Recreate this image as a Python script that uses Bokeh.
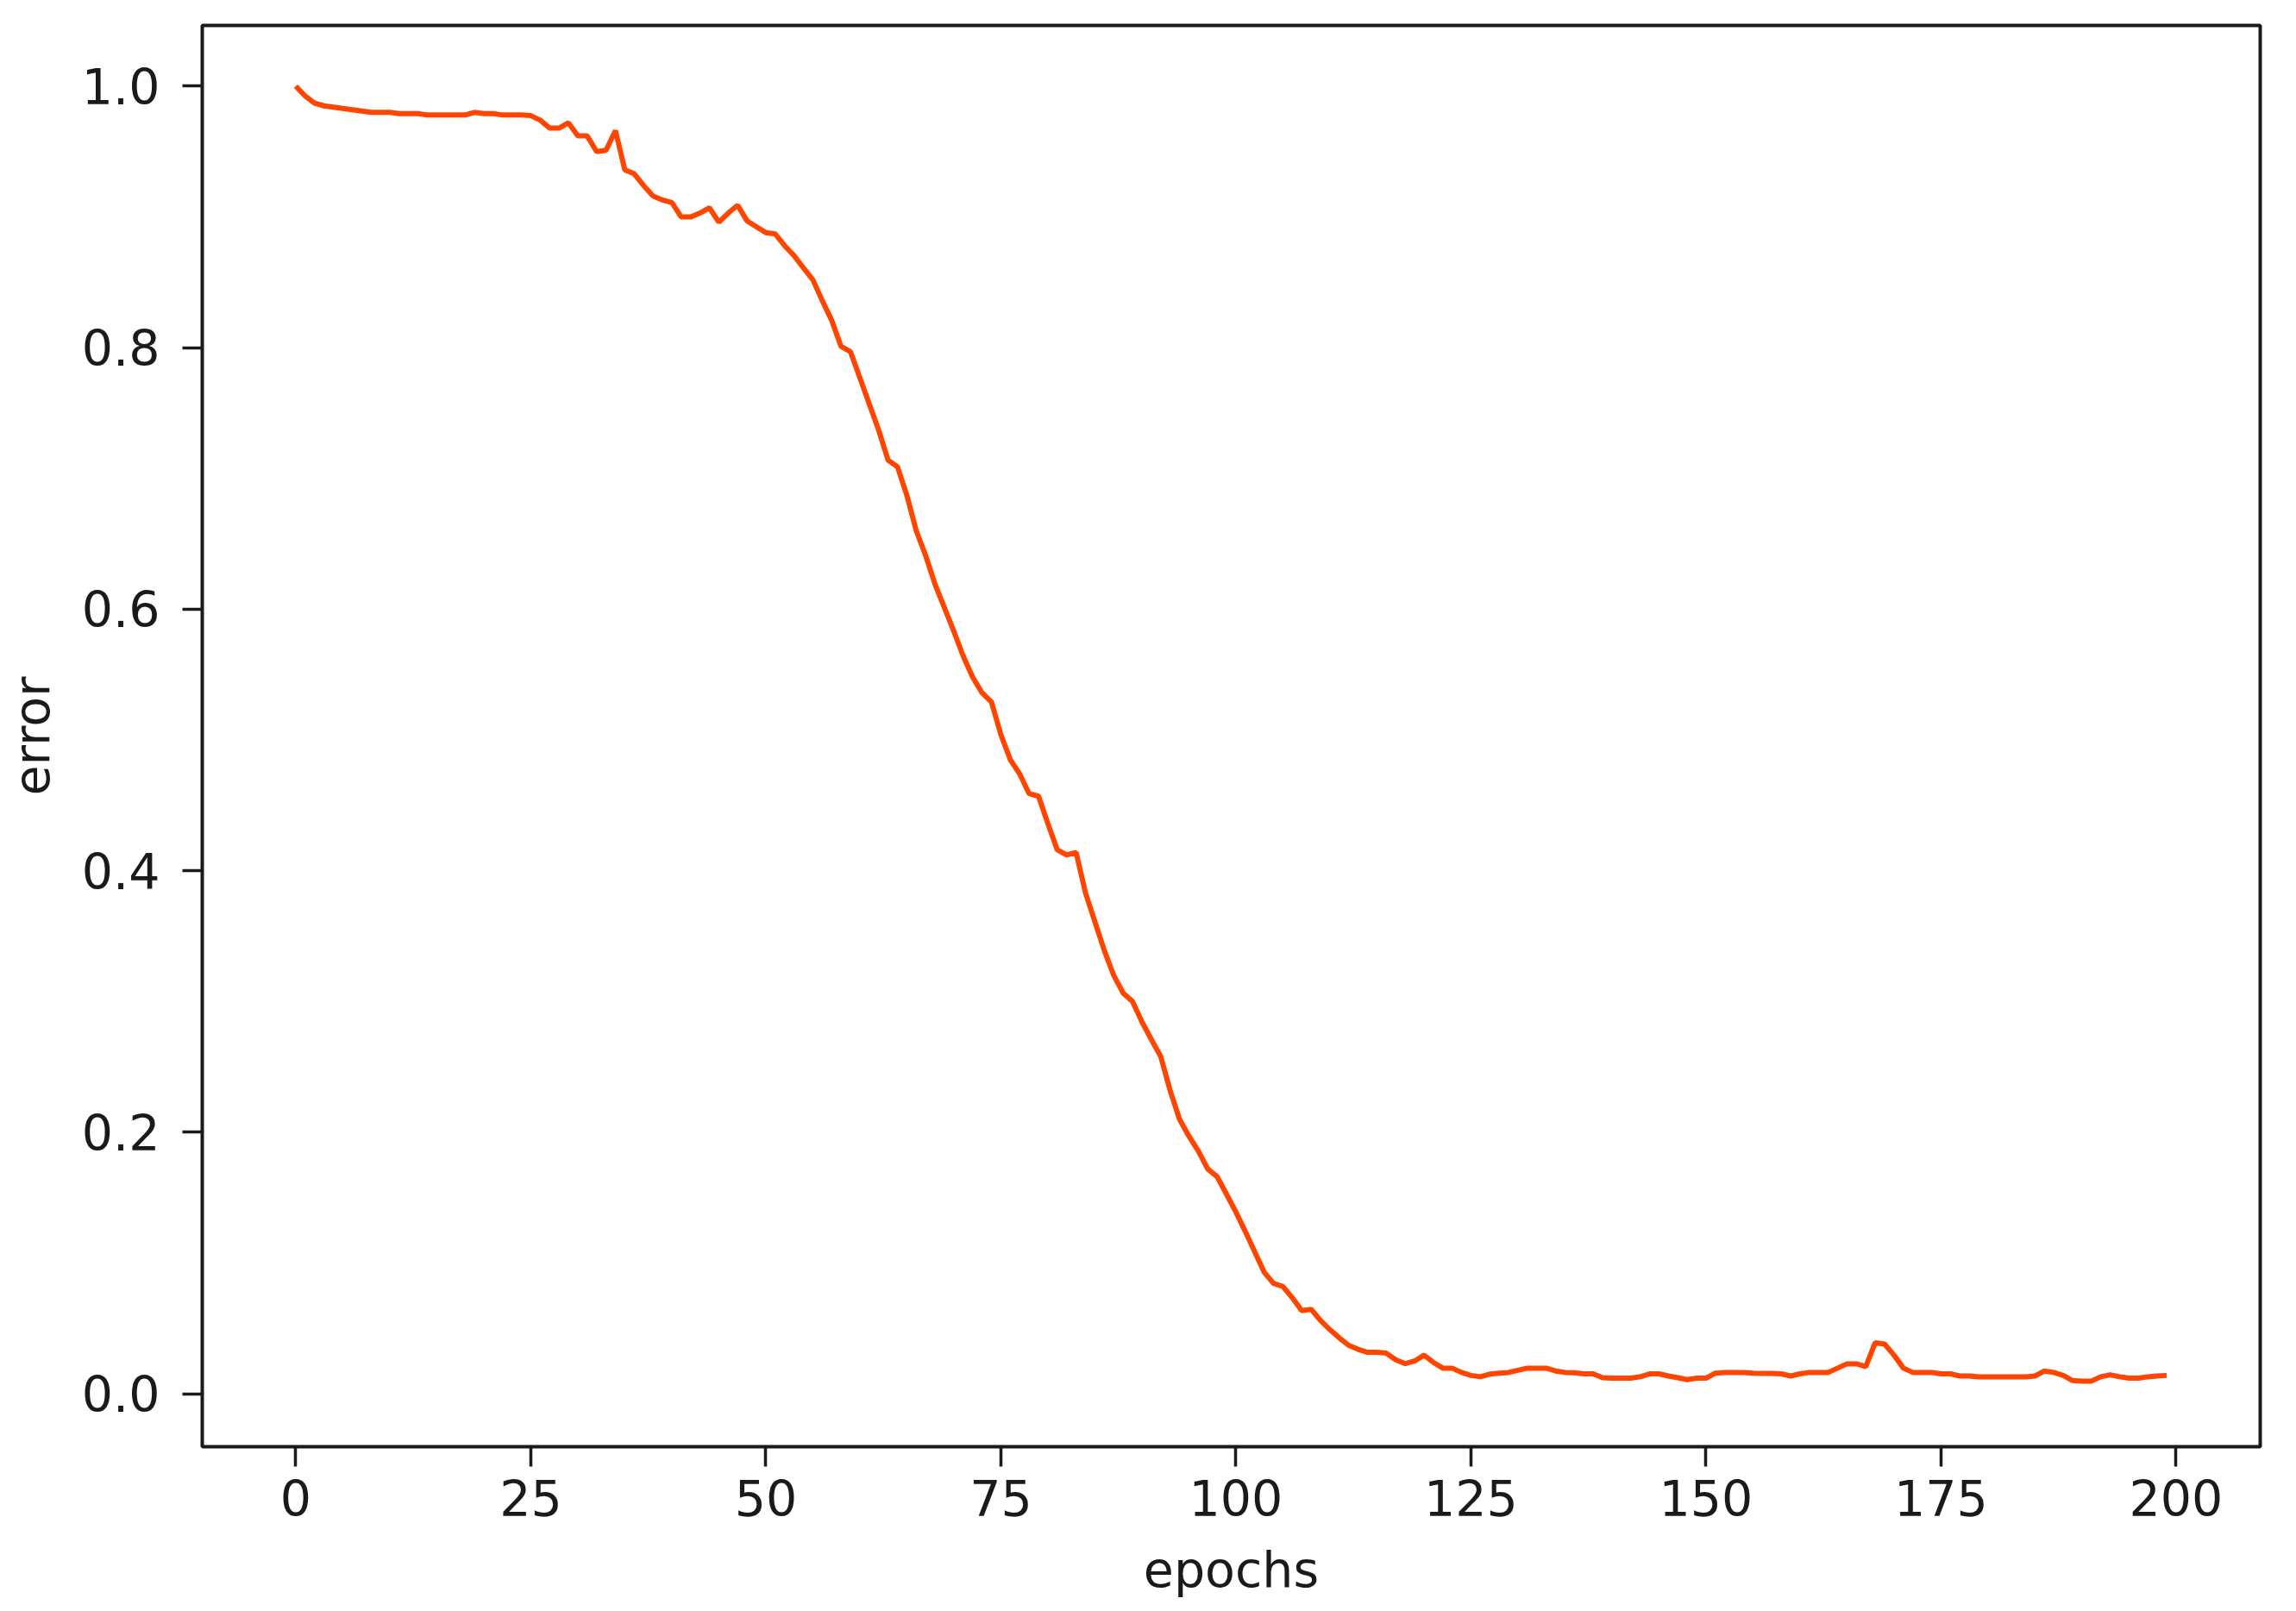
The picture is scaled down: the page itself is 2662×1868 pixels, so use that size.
from bokeh.plotting import figure
from bokeh.models import Range1d, FixedTicker, ColumnDataSource
from bokeh.embed import file_html
from bokeh.resources import INLINE

error = [
    1.000, 0.9925, 0.987, 0.985, 0.984, 0.983, 0.982, 0.981, 0.980, 0.980,
    0.980, 0.979, 0.979, 0.979, 0.978, 0.978, 0.978, 0.978, 0.978, 0.980,
    0.979, 0.979, 0.978, 0.978, 0.978, 0.9775, 0.974, 0.968, 0.968, 0.972,
    0.962, 0.962, 0.950, 0.951, 0.966, 0.936, 0.933, 0.924, 0.916, 0.913,
    0.911, 0.900, 0.900, 0.903, 0.907, 0.896, 0.903, 0.909, 0.897, 0.8925,
    0.888, 0.887, 0.878, 0.8705, 0.861, 0.852, 0.836, 0.821, 0.801, 0.797,
    0.777, 0.757, 0.737, 0.714, 0.709, 0.687, 0.660, 0.641, 0.619, 0.601,
    0.583, 0.564, 0.548, 0.536, 0.529, 0.504, 0.485, 0.474, 0.459, 0.457,
    0.436, 0.416, 0.412, 0.414, 0.383, 0.361, 0.339, 0.320, 0.3065, 0.300,
    0.2845, 0.271, 0.258, 0.232, 0.210, 0.197, 0.1856, 0.172, 0.166, 0.1526,
    0.139, 0.124, 0.1086, 0.093, 0.0844, 0.082, 0.0734, 0.0635, 0.0646, 0.056,
    0.049, 0.0427, 0.037, 0.034, 0.0317, 0.0317, 0.031, 0.026, 0.023, 0.025,
    0.0295, 0.024, 0.0196, 0.0196, 0.0163, 0.014, 0.013, 0.015, 0.0158, 0.0163,
    0.018, 0.0196, 0.0196, 0.0196, 0.0174, 0.0163, 0.016, 0.0153, 0.0152, 0.0123,
    0.0119, 0.0119, 0.0119, 0.013, 0.0152, 0.0152, 0.0136, 0.0123, 0.0108, 0.0119,
    0.0119, 0.0158, 0.0163, 0.0163, 0.0163, 0.0158, 0.0156, 0.0156, 0.0152, 0.0136,
    0.0152, 0.0163, 0.0163, 0.0163, 0.0196, 0.0229, 0.0229, 0.0207, 0.039, 0.038,
    0.0295, 0.0196, 0.0163, 0.0163, 0.0163, 0.0152, 0.0152, 0.0136, 0.0136, 0.013,
    0.013, 0.013, 0.013, 0.013, 0.013, 0.0136, 0.0174, 0.0163, 0.014, 0.0101,
    0.0097, 0.0097, 0.013, 0.0145, 0.013, 0.0119, 0.0119, 0.013, 0.0136, 0.014,
]
epochs = list(range(len(error)))

x_ticks = [0, 25, 50, 75, 100, 125, 150, 175, 200]
y_ticks = [0.0, 0.2, 0.4, 0.6, 0.8, 1.0]
y_tick_labels = {0.0: "0.0", 0.2: "0.2", 0.4: "0.4", 0.6: "0.6", 0.8: "0.8", 1.0: "1.0"}
y_limits = (-0.0405, 1.0465)

# matplotlib-like 5% margins on x
xmin, xmax = min(epochs), max(epochs)
xpad = 0.05 * (xmax - xmin)

p = figure(
    width=2646, height=1860,
    x_range=Range1d(xmin - xpad, xmax + xpad),
    y_range=Range1d(*y_limits),
    output_backend="svg", toolbar_location=None,
    min_border_left=233, min_border_right=26,
    min_border_top=29, min_border_bottom=183,
)

src = ColumnDataSource(dict(x=epochs, y=error))
p.line("x", "y", source=src, line_color="#FF4500", line_width=6)

p.grid.visible = False
p.background_fill_color = "white"
p.border_fill_color = "white"
p.outline_line_color = "#1a1a1a"
p.outline_line_width = 4
p.outline_line_alpha = 1.0

FONT = "DejaVu Sans"
for ax in (p.xaxis[0], p.yaxis[0]):
    ax.axis_line_color = None
    ax.major_tick_line_color = "#1a1a1a"
    ax.major_tick_line_width = 3.5
    ax.major_tick_out = 23
    ax.major_tick_in = 0
    ax.minor_tick_line_color = None
    ax.major_label_text_font = FONT
    ax.major_label_text_font_size = "57px"
    ax.major_label_text_color = "#1a1a1a"
    ax.axis_label_text_font = FONT
    ax.axis_label_text_font_size = "57px"
    ax.axis_label_text_font_style = "normal"
    ax.axis_label_text_color = "#1a1a1a"

p.xaxis.ticker = FixedTicker(ticks=x_ticks)
p.yaxis.ticker = FixedTicker(ticks=y_ticks)
p.yaxis.major_label_overrides = y_tick_labels
p.xaxis.axis_label = "epochs"
p.yaxis.axis_label = "error"
p.xaxis.major_label_standoff = 15
p.yaxis.major_label_standoff = 26
p.xaxis.axis_label_standoff = 26
p.yaxis.axis_label_standoff = 22

open("out.html", "w").write(file_html(p, INLINE))
